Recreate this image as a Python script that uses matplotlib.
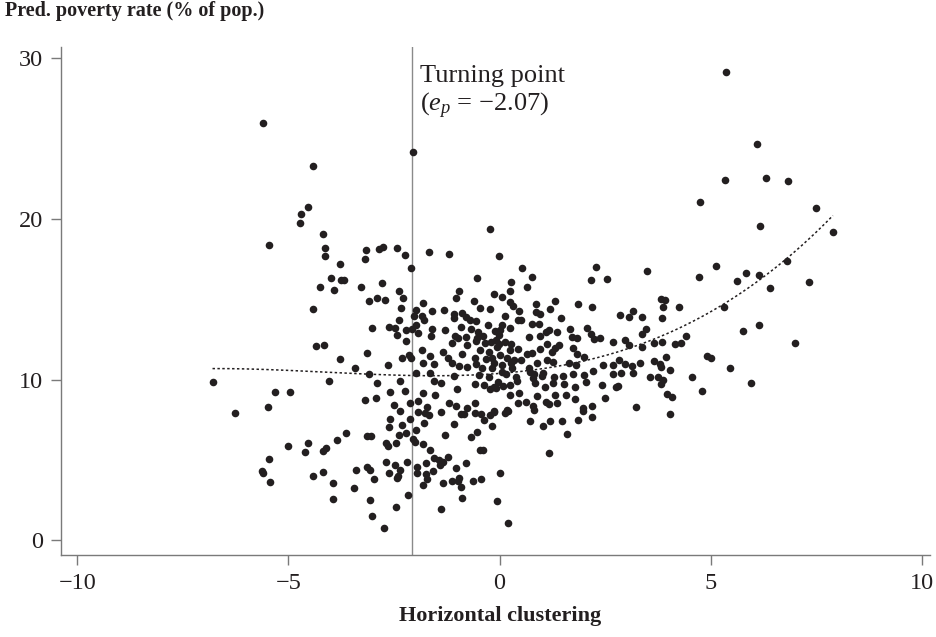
import numpy as np
import matplotlib
matplotlib.use("Agg")
import matplotlib.pyplot as plt

# fuente parecida a la del original (serif)
plt.rcParams['font.family'] = ['Liberation Serif', 'DejaVu Serif']
plt.rcParams['mathtext.fontset'] = 'custom'
plt.rcParams['mathtext.rm'] = 'Liberation Serif'
plt.rcParams['mathtext.it'] = 'Liberation Serif:italic'

# puntos, (clustering horizontal, tasa de pobreza predicha)
pts_top = [(-5.60, 25.98), (-4.42, 23.28), (-4.53, 20.75), (-4.71, 20.31), (-4.73, 19.77),
           (-4.19, 19.05), (-2.04, 24.15), (-0.23, 19.38),
           (5.37, 29.15), (6.09, 24.65), (5.35, 22.41), (6.32, 22.53), (6.84, 22.37),
           (4.76, 21.04), (7.49, 20.67), (6.18, 19.58), (7.90, 19.19)]

pts_left = [(-5.47, 18.38), (-4.13, 18.21), (-4.13, 17.70), (-3.16, 18.05), (-3.19, 17.49),
            (-2.85, 18.15), (-2.76, 18.28), (-2.42, 18.21), (-2.23, 17.74), (-2.10, 16.95),
            (-3.78, 17.18), (-4.00, 16.35), (-3.75, 16.18), (-3.69, 16.22), (-4.25, 15.75),
            (-3.92, 15.56), (-3.27, 15.77), (-2.78, 16.02), (-2.38, 15.54), (-2.28, 15.08),
            (-3.09, 14.89), (-2.91, 15.06), (-2.72, 14.94), (-4.42, 14.38), (-2.34, 14.44),
            (-2.38, 13.73), (-3.03, 13.19), (-2.61, 13.30), (-2.48, 13.21), (-2.42, 12.78),
            (-2.21, 13.09), (-2.21, 12.42), (-1.97, 14.33), (-2.02, 13.96), (-1.97, 13.40),
            (-1.92, 12.88), (-2.08, 13.13), (-4.35, 12.09), (-4.17, 12.15), (-3.78, 11.26),
            (-3.13, 11.64), (-2.31, 11.36), (-2.14, 11.51), (-2.09, 11.33), (-3.43, 10.74),
            (-2.64, 10.89), (-3.09, 10.37), (-1.97, 10.43), (-6.80, 9.83), (-4.05, 9.93),
            (-2.91, 9.79), (-2.35, 9.93), (-5.32, 9.25), (-4.97, 9.25), (-2.59, 9.21),
            (-2.23, 9.29), (-3.18, 8.75), (-2.93, 8.84), (-5.49, 8.31), (-6.26, 7.90),
            (-2.51, 8.42), (-2.36, 8.06), (-2.13, 8.56), (-1.94, 8.67), (-1.93, 7.96),
            (-2.59, 7.53), (-2.13, 7.57)]

pts_low_left = [(-2.32, 7.17), (-2.62, 7.03), (-1.99, 6.86), (-2.22, 6.69), (-2.38, 6.53),
                (-3.64, 6.67), (-3.13, 6.47), (-3.05, 6.47), (-3.85, 6.22), (-4.53, 6.03),
                (-5.01, 5.88), (-2.68, 6.03), (-2.65, 5.88), (-2.46, 6.07), (-2.04, 6.28),
                (-2.00, 6.13), (-4.10, 5.74), (-4.19, 5.53), (-4.61, 5.49), (-5.46, 5.04),
                (-5.62, 4.33), (-5.60, 4.20), (-5.44, 3.64), (-4.41, 4.02), (-4.19, 4.25),
                (-3.95, 3.58), (-3.94, 2.58), (-3.45, 3.27), (-3.39, 4.37), (-3.13, 4.54),
                (-3.07, 4.37), (-2.98, 3.83), (-3.07, 2.52), (-3.03, 1.49), (-2.73, 0.76),
                (-2.68, 4.87), (-2.48, 4.70), (-2.62, 4.18), (-2.35, 4.35), (-2.41, 4.00),
                (-2.42, 3.87), (-2.19, 4.85), (-2.18, 2.83), (-2.46, 2.09), (-1.96, 4.54),
                (-1.96, 4.17)]

pts_low_mid = [(-1.78, 7.32), (-1.67, 7.80), (-1.77, 7.90), (-1.39, 8.00), (-0.91, 7.86),
               (-0.84, 7.86), (-0.59, 7.94), (-0.43, 7.86), (-0.36, 7.48), (-0.22, 7.81),
               (-0.18, 7.11), (-0.13, 7.98), (0.12, 7.94), (0.19, 8.06), (-1.07, 7.25),
               (-1.29, 6.55), (-0.53, 6.76), (-0.68, 6.43), (-1.82, 5.97), (-1.64, 5.62),
               (-1.55, 5.14), (-1.44, 4.99), (-1.34, 4.89), (-1.23, 5.18), (-1.41, 4.68),
               (-1.74, 4.79), (-1.75, 4.12), (-1.58, 4.31), (-1.71, 3.79), (-1.82, 3.42),
               (-1.34, 3.54), (-1.03, 4.48), (-0.80, 4.79), (-0.46, 5.64), (-0.38, 5.64),
               (-1.12, 3.67), (-0.99, 3.69), (-0.95, 3.85), (-0.91, 3.31), (-0.62, 3.70),
               (-0.43, 3.81), (-0.90, 2.63), (-1.38, 1.96), (0.01, 4.20), (-0.06, 2.46),
               (0.19, 1.07), (0.73, 7.40), (0.81, 8.11), (1.04, 7.09), (1.20, 7.44),
               (1.48, 7.40), (1.59, 6.59), (1.17, 5.43), (1.86, 7.50), (2.18, 7.65),
               (1.99, 8.06), (4.03, 7.88)]

pts_right = [(3.49, 16.74), (5.13, 17.09), (4.72, 16.39), (5.85, 16.64), (6.15, 16.53),
             (6.82, 17.38), (5.62, 16.14), (7.33, 16.10), (6.41, 15.68), (5.31, 14.54),
             (3.82, 15.04), (3.93, 14.94), (3.87, 14.54), (4.25, 14.52), (3.38, 13.88),
             (3.84, 13.82), (3.48, 13.13), (3.37, 12.84), (5.77, 13.04), (6.15, 13.40),
             (4.43, 12.73), (3.65, 12.28), (3.86, 12.36), (4.15, 12.24), (4.29, 12.26),
             (3.37, 12.05), (6.99, 12.26), (4.92, 11.47), (5.01, 11.35), (3.94, 11.41),
             (3.67, 11.18), (3.33, 11.05), (3.81, 10.95), (3.82, 10.78), (4.05, 10.58),
             (5.46, 10.70), (3.57, 10.14), (3.75, 10.16), (3.87, 9.99), (3.82, 9.74),
             (4.56, 10.14), (5.95, 9.79), (4.79, 9.31), (3.96, 9.12), (4.09, 8.90)]

pts_center = [(-1.67, 17.93), (-1.20, 17.82), (-0.01, 17.71), (0.54, 16.95), (0.76, 16.41),
              (0.65, 15.78), (0.28, 16.06), (0.24, 15.52), (-0.54, 16.33), (2.28, 16.99),
              (2.16, 16.20), (2.55, 16.28), (-0.96, 15.52), (-1.03, 15.08), (-0.13, 15.31),
              (0.06, 15.12), (-0.61, 14.88), (-0.46, 14.48), (-0.22, 14.40), (0.25, 14.85),
              (0.31, 14.58), (0.47, 14.29), (0.87, 14.73), (0.86, 14.23), (0.96, 14.07),
              (1.19, 14.40), (1.31, 14.88), (1.86, 14.71), (2.20, 14.54), (1.46, 13.85),
              (2.85, 14.02), (3.06, 13.88), (3.17, 14.27), (-1.82, 14.77), (-1.59, 14.27),
              (-1.31, 14.31), (-1.84, 13.96), (-1.78, 13.69), (-1.09, 14.08), (-1.07, 13.84),
              (-0.88, 14.13), (-0.80, 13.88), (-0.71, 13.71), (-0.55, 13.67), (0.13, 13.96),
              (0.44, 13.71), (0.50, 13.71), (0.77, 13.46), (0.94, 13.48), (-1.61, 13.13),
              (-1.29, 13.09), (-0.91, 13.28), (-0.68, 13.15), (-0.27, 13.38), (0.00, 13.11),
              (0.06, 13.42), (1.66, 13.13), (2.07, 13.23), (-1.62, 12.71), (-1.06, 12.71),
              (-0.98, 12.61), (-0.79, 12.67), (-0.50, 12.98), (-0.39, 12.71), (-0.11, 13.05),
              (-0.01, 12.78), (0.71, 12.63), (0.95, 12.71), (1.11, 12.98), (1.17, 13.11),
              (1.36, 12.98), (1.72, 12.63), (1.84, 12.57), (2.16, 12.82), (2.23, 12.55),
              (2.39, 12.57), (2.69, 12.34), (2.98, 12.47), (3.07, 12.17), (-1.12, 12.26),
              (-0.77, 12.14), (-0.56, 12.38), (-0.34, 12.30), (-0.20, 12.36), (-0.08, 12.48),
              (-0.01, 12.20), (0.27, 12.24), (0.44, 11.92), (0.64, 11.59), (0.78, 11.64),
              (0.97, 11.89), (1.12, 12.20), (1.25, 11.70), (1.41, 12.15), (1.75, 11.99),
              (1.83, 11.59), (2.00, 11.39), (-1.84, 11.84), (-1.34, 11.70), (-1.65, 11.47),
              (-1.23, 11.35), (-0.89, 11.61), (-0.58, 11.36), (-0.31, 11.30), (0.02, 11.53),
              (0.18, 11.36), (0.34, 11.24), (0.52, 11.20), (-1.82, 11.05), (-1.56, 10.97),
              (-1.12, 11.05), (-0.96, 10.85), (-0.77, 10.80), (-0.56, 10.99), (-0.42, 10.72),
              (-0.14, 11.03), (0.05, 10.93), (0.28, 11.01), (0.89, 11.05), (1.13, 11.22),
              (1.27, 11.10), (1.65, 11.01), (1.81, 10.91), (2.45, 10.91), (2.70, 10.93),
              (2.84, 11.24), (2.97, 10.97), (3.15, 10.87), (-1.64, 10.39), (-1.08, 10.24),
              (-0.48, 10.27), (-0.25, 10.14), (0.16, 10.37), (0.39, 10.18), (0.69, 10.74),
              (0.82, 10.33), (1.00, 10.21), (1.51, 10.22), (1.74, 10.33), (2.00, 10.27),
              (2.21, 10.55), (2.70, 10.35), (2.88, 10.39), (3.16, 10.43), (-1.56, 9.91),
              (-1.38, 9.81), (-1.00, 9.40), (-0.57, 9.75), (-0.37, 9.66), (-0.03, 9.85),
              (0.41, 9.93), (0.85, 9.77), (1.08, 9.56), (1.27, 9.81), (1.53, 9.75),
              (1.80, 9.56), (2.05, 9.83), (2.43, 9.66), (2.80, 9.60), (-1.82, 9.15),
              (-1.53, 9.04), (-0.23, 9.40), (-0.08, 9.46), (0.09, 9.60), (0.24, 9.04),
              (0.46, 9.15), (0.63, 8.59), (0.89, 9.00), (1.10, 8.62), (1.32, 9.04),
              (1.57, 9.04), (1.79, 8.77), (2.50, 8.84), (2.75, 9.56), (3.23, 8.31),
              (-1.72, 8.31), (-1.20, 8.52), (-1.03, 8.36), (-0.76, 8.25), (-0.58, 8.52),
              (-0.12, 8.06), (0.18, 8.09), (0.44, 8.52), (0.79, 8.37), (1.17, 8.50),
              (1.37, 8.56), (1.98, 8.21), (2.20, 8.36)]

# puntos extra del nucleo denso (segunda lectura)
pts_denso = [(-0.54, 12.57), (-0.07, 12.05), (0.14, 12.36), (-0.46, 11.84), (-0.26, 11.74),
             (0.25, 11.84), (-0.18, 11.33), (-0.18, 10.70), (0.29, 10.70), (0.06, 10.49),
             (-0.14, 9.56), (0.25, 9.66), (0.25, 13.19), (0.73, 10.49), (1.04, 10.39),
             (0.80, 10.08), (1.28, 10.18), (1.32, 11.95)]

# curva ajustada (punteada), puntos leidos sobre la linea
curva_x = [-6.8, -4.88, -2.07, 0.02, 0.88, 1.99, 3.18, 5.31, 6.73, 7.90]
curva_y = [10.70, 10.54, 10.22, 10.35, 10.70, 11.18, 12.05, 14.71, 17.24, 20.29]

turning_point = -2.07

todos = np.array(pts_top + pts_left + pts_low_left + pts_low_mid + pts_right
                 + pts_center + pts_denso)

fig = plt.figure(figsize=(9.36, 6.37), dpi=100)
ax = fig.add_axes([61/936, 1 - 555/637, (930 - 61)/936, (555 - 47)/637])

ax.scatter(todos[:, 0], todos[:, 1], s=30, color='#231f20', linewidths=0, zorder=3)

coef = np.polyfit(curva_x, curva_y, 3)
xs = np.linspace(min(curva_x), max(curva_x), 300)
ax.plot(xs, np.polyval(coef, xs), color='#231f20', lw=1.1, linestyle=(0, (1.6, 1.6)), zorder=4)

ax.axvline(turning_point, color='#8a8a8a', lw=1.0, zorder=2)

ax.text(-1.88, 28.9, 'Turning point', fontsize=19, va='center', ha='left', color='#231f20')
ax.text(-1.88, 27.0, r'($e_p$ = −2.07)', fontsize=19, va='center', ha='left', color='#231f20')

ax.set_xlim(-10.39, 10.2)
ax.set_ylim(-0.92, 30.7)
ax.set_xticks([-10, -5, 0, 5, 10])
ax.set_xticklabels(['−10', '−5', '0', '5', '10'])
ax.set_yticks([0, 10, 20, 30])

for lado in ['top', 'right']:
    ax.spines[lado].set_visible(False)
for lado in ['left', 'bottom']:
    ax.spines[lado].set_color('#7a7a7a')
    ax.spines[lado].set_linewidth(1.0)
ax.tick_params(direction='out', length=7, width=1, color='#7a7a7a',
               labelsize=17.5, labelcolor='#231f20', pad=6)

fig.text(5/936, 1 - 11/637, 'Pred. poverty rate (% of pop.)', fontsize=14.5,
         fontweight='bold', va='center', ha='left', color='#231f20')
fig.text(500/936, 1 - 616/637, 'Horizontal clustering', fontsize=16,
         fontweight='bold', va='center', ha='center', color='#231f20')

plt.savefig('out.png', dpi=100)
plt.close()
